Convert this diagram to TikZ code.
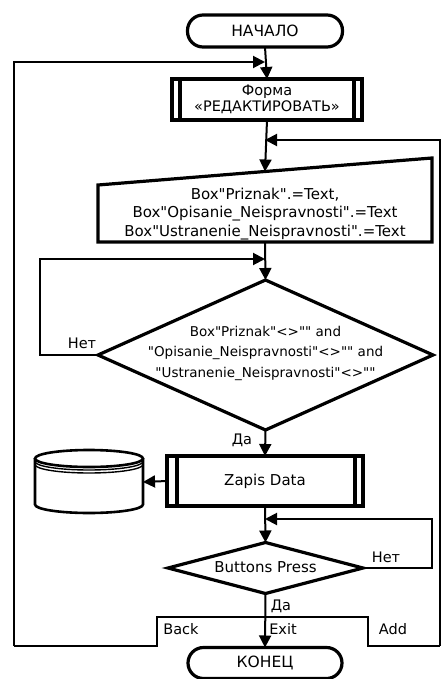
\documentclass[tikz,border=0pt]{standalone}
\usepackage{fontspec}
\setmainfont{DejaVu Sans}[Ligatures=TeXOff]
\usetikzlibrary{arrows.meta,shapes.geometric}
% straight double quote
\newcommand\dq{\char34\relax}
\begin{document}
\begin{tikzpicture}[x=1pt,y=-1pt,
  box/.style={draw, line width=3.2, inner sep=0, outer sep=0},
  term/.style={box, rounded corners=15.5, minimum width=155, minimum height=32},
  pproc/.style={box, minimum width=192, minimum height=44},
  decision/.style={box, diamond},
  conn/.style={line width=2, -{Triangle[length=12,width=12]}},
  wire/.style={line width=2},
  lbl/.style={inner sep=0, font=\fontsize{14.5}{16}\selectfont},
  txt/.style={align=center, inner sep=0, font=\fontsize{15}{18}\selectfont}]
\useasboundingbox (0,0) rectangle (443,679);

% terminals
\node[term] (start) at (265,31) {};
\node[txt, font=\fontsize{15.5}{18}\selectfont] (startT) at (start) {НАЧАЛО};
\node[term, minimum width=154, minimum height=31] (fin) at (265,663) {};
\node[txt, font=\fontsize{15.5}{18}\selectfont] (finT) at (fin) {КОНЕЦ};

% predefined process: edit form
\node[pproc, minimum width=190, minimum height=41] (form) at (267,99.5) {};
\draw[line width=3.2] ([xshift=8]form.north west) -- ([xshift=8]form.south west);
\draw[line width=3.2] ([xshift=-8]form.north east) -- ([xshift=-8]form.south east);
\node[txt, font=\fontsize{14.5}{16.5}\selectfont] (formT) at (form) {Форма\\«РЕДАКТИРОВАТЬ»};

% manual input
\draw[line width=3.2, line join=miter] (98,185) -- (432,158) -- (432,242) -- (98,242) -- cycle;
\coordinate (inTop) at (265,171.5);
\coordinate (inBot) at (265,242);
\node[txt, font=\fontsize{15}{18.5}\selectfont] (inT) at (265,214)
  {Box\dq Priznak\dq.=Text,\\Box\dq Opisanie\_Neispravnosti\dq.=Text\\Box\dq Ustranenie\_Neispravnosti\dq.=Text};

% first decision
\node[decision, minimum width=335, minimum height=150] (d1) at (265.5,355) {};
\node[txt, font=\fontsize{13.5}{20.5}\selectfont] (d1T) at (265.5,353)
  {Box\dq Priznak\dq<>\dq\dq\ and\\\dq Opisanie\_Neispravnosti\dq<>\dq\dq\ and\\\dq Ustranenie\_Neispravnosti\dq<>\dq\dq};

% predefined process: save data
\node[pproc, minimum width=196, minimum height=50] (zap) at (265,481) {};
\draw[line width=3.2] ([xshift=10]zap.north west) -- ([xshift=10]zap.south west);
\draw[line width=3.2] ([xshift=-8]zap.north east) -- ([xshift=-8]zap.south east);
\node[txt] (zapT) at (zap) {Zapis Data};

% data store
\draw[line width=2.6, fill=white] (35,458.5) -- (35,504.5)
  arc[start angle=180, end angle=360, x radius=54pt, y radius=8.5pt] -- (143,458.5);
\draw[line width=2.6] (89,458.5) ellipse [x radius=54pt, y radius=8.5pt];
\draw[line width=1.4] (35,461.5) arc[start angle=180, end angle=360, x radius=54pt, y radius=8.5pt];
\draw[line width=1.4] (35,464.5) arc[start angle=180, end angle=360, x radius=54pt, y radius=8.5pt];
\coordinate (db) at (143,482);

% second decision
\node[decision, minimum width=195, minimum height=51] (d2) at (265.5,568) {};
\node[txt] (d2T) at (265.5,567) {Buttons Press};

% join points and corners
\coordinate (topJoin) at (265,62);
\coordinate (editJoin) at (265,140);
\coordinate (inJoin) at (265,259);
\coordinate (zapJoin) at (265,519);
\coordinate (loopA) at (40,259);
\coordinate (loopB) at (432,519);
\coordinate (backL) at (14,646);
\coordinate (addR) at (440,646);

% main flow
\draw[conn] (start.south) -- (form.north);
\draw[conn] (form.south) -- (inTop);
\draw[conn] (inBot) -- (d1.north);
\draw[conn] (d1.south) -- (zap.north);
\draw[conn] (zap.west) -- (db);
\draw[conn] (zap.south) -- (d2.north);
\draw[conn] (d2.south) -- (fin.north);

% loops
\draw[conn] (d1.west) -| (loopA) -- (inJoin);
\draw[conn] (d2.east) -| (loopB) -- (zapJoin);
\draw[conn] (backL) |- (topJoin);
\draw[wire] (backL) -| (157,617) -| (368,646) -- (addR);
\draw[conn] (addR) |- (editJoin);

% labels
\node[lbl] (no1) at (82,343) {Нет};
\node[lbl] (yes1) at (242,440) {Да};
\node[lbl] (no2) at (386,557) {Нет};
\node[lbl] (yes2) at (281,606) {Да};
\node[lbl] (back) at (181,629) {Back};
\node[lbl] (exit) at (283,629) {Exit};
\node[lbl] (add) at (393,629) {Add};
\end{tikzpicture}
\end{document}
